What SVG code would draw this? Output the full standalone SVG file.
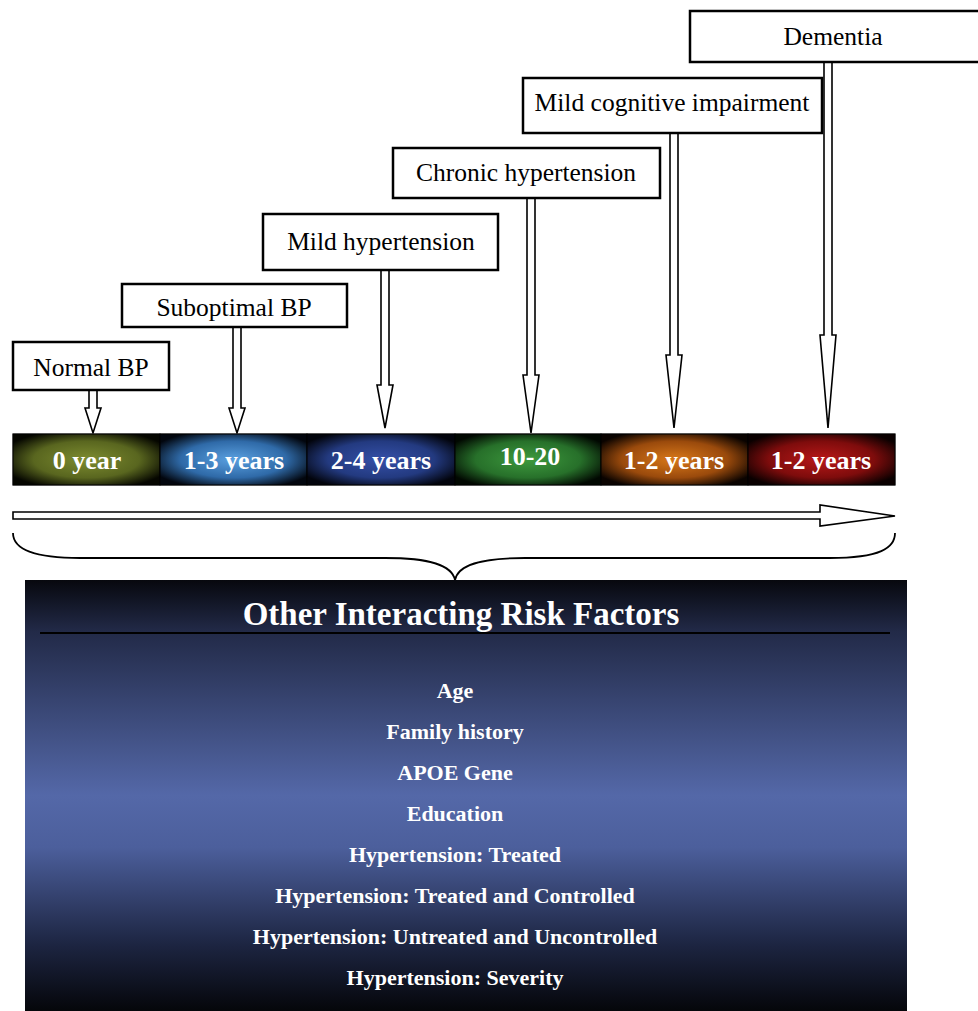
<svg xmlns="http://www.w3.org/2000/svg" width="978" height="1011" viewBox="0 0 978 1011">
<defs>
<style>
.box{fill:#fff;stroke:#000;stroke-width:2.5}
.bt{font-family:"Liberation Serif",serif;font-size:25.5px;fill:#000;text-anchor:middle}
.arr{fill:#fff;stroke:#000;stroke-width:1.6;stroke-linejoin:miter}
.st{font-family:"Liberation Serif",serif;font-size:26px;font-weight:bold;fill:#fff;text-anchor:middle}
.rf{font-family:"Liberation Serif",serif;font-size:22px;font-weight:bold;fill:#fff;text-anchor:middle}
.seg{stroke:#000;stroke-width:1}
</style>
<radialGradient id="g0" cx="0.5" cy="0.5" r="0.6"><stop offset="0" stop-color="#7d8c30"/><stop offset="0.6" stop-color="#59661f"/><stop offset="1" stop-color="#050600"/></radialGradient>
<radialGradient id="g1" cx="0.5" cy="0.5" r="0.6"><stop offset="0" stop-color="#5aa0e0"/><stop offset="0.6" stop-color="#2f6aa8"/><stop offset="1" stop-color="#02060e"/></radialGradient>
<radialGradient id="g2" cx="0.5" cy="0.5" r="0.6"><stop offset="0" stop-color="#3550a8"/><stop offset="0.6" stop-color="#233a80"/><stop offset="1" stop-color="#02040c"/></radialGradient>
<radialGradient id="g3" cx="0.5" cy="0.5" r="0.6"><stop offset="0" stop-color="#3e9a3e"/><stop offset="0.6" stop-color="#27702a"/><stop offset="1" stop-color="#010801"/></radialGradient>
<radialGradient id="g4" cx="0.5" cy="0.5" r="0.6"><stop offset="0" stop-color="#d8781a"/><stop offset="0.6" stop-color="#9a4a0c"/><stop offset="1" stop-color="#0a0300"/></radialGradient>
<radialGradient id="g5" cx="0.5" cy="0.5" r="0.6"><stop offset="0" stop-color="#b81818"/><stop offset="0.6" stop-color="#7e0c0c"/><stop offset="1" stop-color="#0a0000"/></radialGradient>
<linearGradient id="bg" x1="0" y1="0" x2="0" y2="1"><stop offset="0" stop-color="#07080e"/><stop offset="0.12" stop-color="#222a48"/><stop offset="0.5" stop-color="#5468a8"/><stop offset="0.62" stop-color="#4c5f9c"/><stop offset="0.85" stop-color="#1c2440"/><stop offset="1" stop-color="#05060a"/></linearGradient>
</defs>

<g id="connectors">
<path class="arr" d="M89,390 V408 H85 L93,433 L101,408 H97 V390"/>
<path class="arr" d="M233,327 V408 H229 L237,433 L245,408 H241 V327"/>
<path class="arr" d="M381,270 V385 H377 L385,428 L393,385 H389 V270"/>
<path class="arr" d="M527,198 V375 H523 L531,433 L539,375 H535 V198"/>
<path class="arr" d="M670,133 V355 H666 L674,428 L682,355 H678 V133"/>
<path class="arr" d="M824,62 V335 H820 L828,428 L836,335 H832 V62"/>
<path class="arr" d="M13,512 H820 V505 L895,516 L820,526 V519 H13 Z"/>
<path d="M13,533 C13,548 30,558 80,558 H385 C430,558 452,565 455,580 C458,565 480,558 525,558 H830 C880,558 895,548 895,533" fill="none" stroke="#000" stroke-width="1.8"/>
</g>

<g id="normal-bp"><rect class="box" x="13" y="342" width="156" height="48"/><text class="bt" x="91" y="376">Normal BP</text></g>
<g id="suboptimal-bp"><rect class="box" x="122" y="284" width="225" height="43"/><text class="bt" x="234" y="316">Suboptimal BP</text></g>
<g id="mild-hypertension"><rect class="box" x="263" y="214" width="235" height="56"/><text class="bt" x="381" y="250">Mild hypertension</text></g>
<g id="chronic-hypertension"><rect class="box" x="393" y="148" width="267" height="50"/><text class="bt" x="526" y="181">Chronic hypertension</text></g>
<g id="mci"><rect class="box" x="523" y="78" width="299" height="55"/><text class="bt" x="672" y="111">Mild cognitive impairment</text></g>
<g id="dementia"><rect class="box" x="690" y="11" width="300" height="51"/><text class="bt" x="833" y="45">Dementia</text></g>

<g id="timeline">
<rect x="13" y="434" width="882" height="51" fill="#000" stroke="#555" stroke-width="1"/>
<rect class="seg" x="13" y="434" width="147" height="51" fill="url(#g0)"/>
<rect class="seg" x="160" y="434" width="147" height="51" fill="url(#g1)"/>
<rect class="seg" x="307" y="434" width="148" height="51" fill="url(#g2)"/>
<rect class="seg" x="455" y="434" width="146" height="51" fill="url(#g3)"/>
<rect class="seg" x="601" y="434" width="147" height="51" fill="url(#g4)"/>
<rect class="seg" x="748" y="434" width="147" height="51" fill="url(#g5)"/>
<text class="st" x="87" y="469">0 year</text>
<text class="st" x="234" y="469">1-3 years</text>
<text class="st" x="381" y="469">2-4 years</text>
<text class="st" x="530" y="465">10-20</text>
<text class="st" x="674" y="469">1-2 years</text>
<text class="st" x="821" y="469">1-2 years</text>
</g>

<g id="risk-factors">
<rect x="25" y="580" width="882" height="431" fill="url(#bg)"/>
<text x="461" y="625" font-family="Liberation Serif,serif" font-size="33" font-weight="bold" fill="#fff" text-anchor="middle">Other Interacting Risk Factors</text>
<line x1="40" y1="633" x2="890" y2="633" stroke="#000" stroke-width="2"/>
<text class="rf" x="455" y="698">Age</text>
<text class="rf" x="455" y="739">Family history</text>
<text class="rf" x="455" y="780">APOE Gene</text>
<text class="rf" x="455" y="821">Education</text>
<text class="rf" x="455" y="862">Hypertension: Treated</text>
<text class="rf" x="455" y="903">Hypertension: Treated and Controlled</text>
<text class="rf" x="455" y="944">Hypertension: Untreated and Uncontrolled</text>
<text class="rf" x="455" y="985">Hypertension: Severity</text>
</g>
</svg>
